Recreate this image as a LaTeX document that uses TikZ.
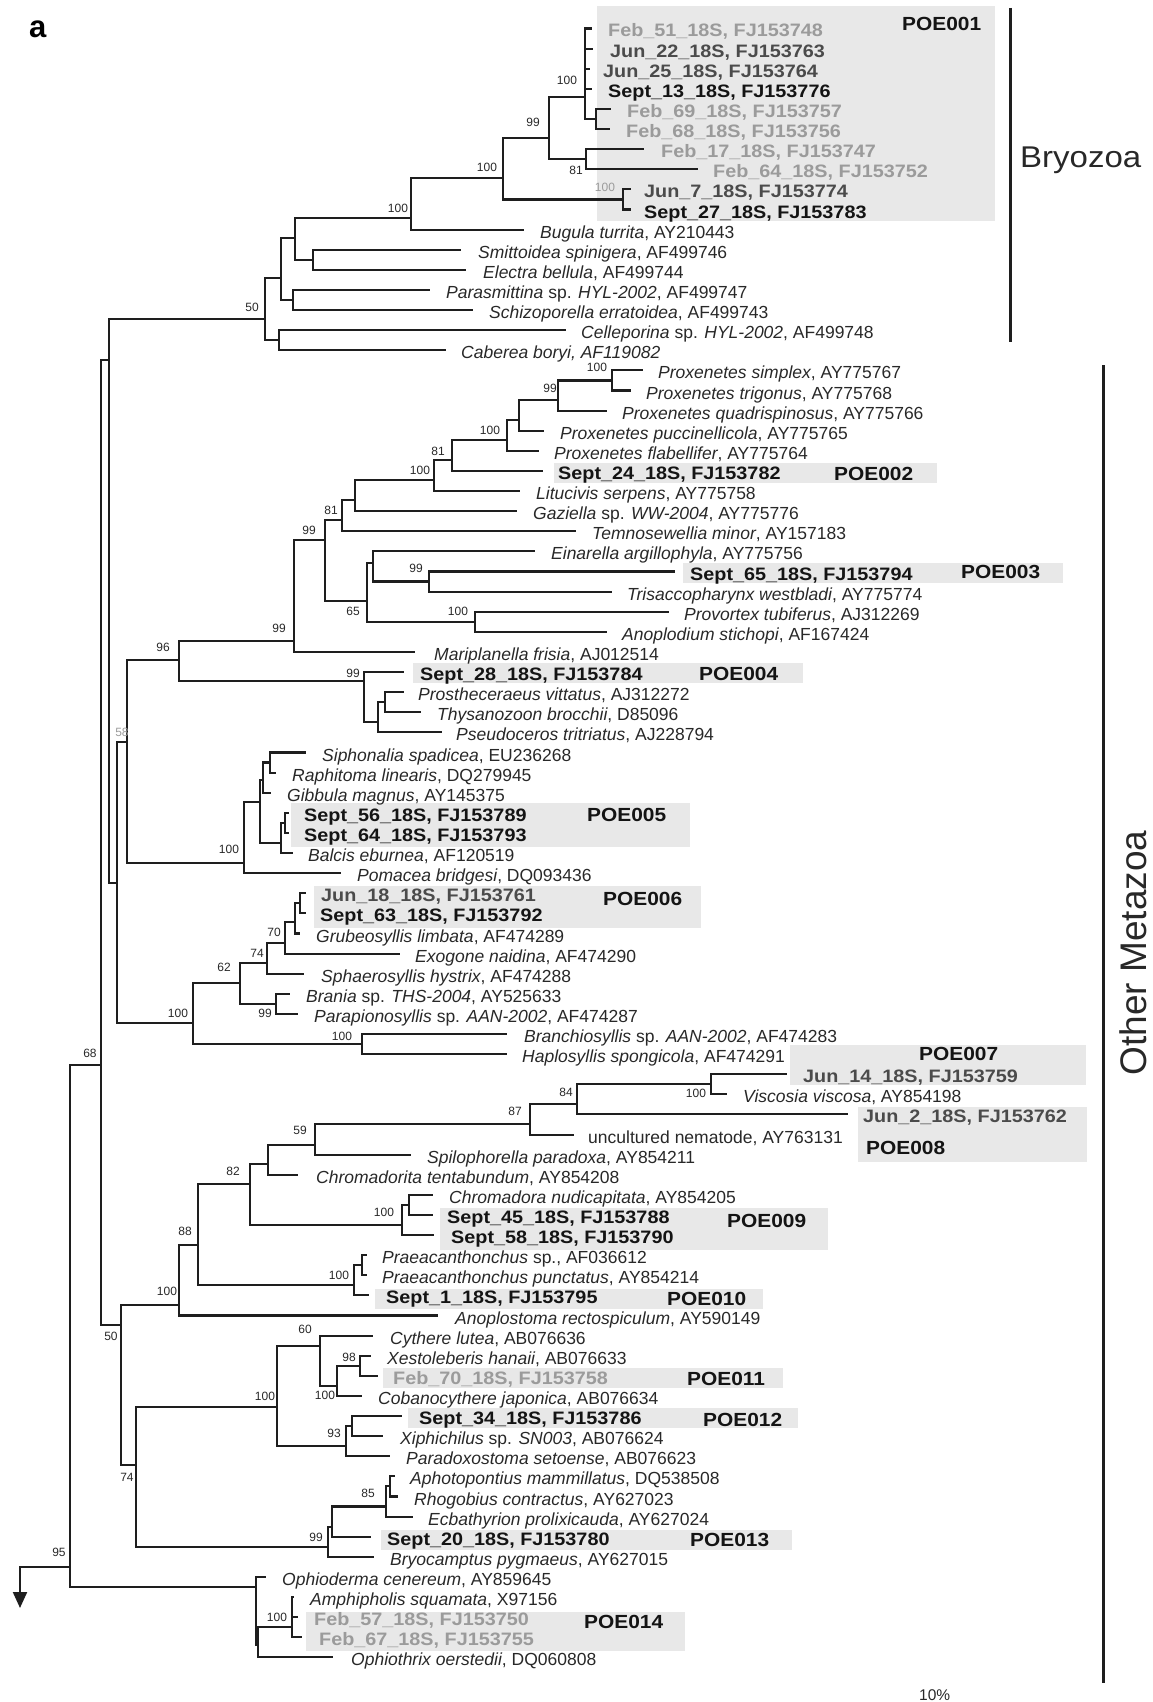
\documentclass[tikz,border=0pt]{standalone}
\usepackage{fontspec}
\setmainfont{Liberation Sans}
\newfontfamily\boldlab{Liberation Sans}[FakeStretch=1.1]
\usetikzlibrary{arrows.meta}
\definecolor{boxgray}{RGB}{232,232,232}
\definecolor{febc}{RGB}{155,155,155}
\definecolor{junc}{RGB}{75,75,75}
\definecolor{septc}{RGB}{20,20,20}
\definecolor{txtc}{RGB}{40,40,40}
\definecolor{linec}{RGB}{30,30,30}
\tikzset{
  br/.style={line width=2.1pt, draw=linec},
  cladebar/.style={line width=3pt, draw=linec},
  lf/.style={anchor=base west, inner sep=0pt, text=txtc, font=\fontsize{17.5}{20}\selectfont},
  bl/.style={anchor=base west, inner sep=0pt, text=septc, font=\boldlab\bfseries\fontsize{18}{20}\selectfont},
  poe/.style={anchor=base west, inner sep=0pt, text=septc, font=\boldlab\bfseries\fontsize{19}{20}\selectfont},
  bs/.style={inner sep=0pt, text=txtc, font=\fontsize{12}{12}\selectfont},
  gbox/.style={fill=boxgray, draw=none},
}
\newcommand\treekids[2]{\foreach \kid in {#2}{\draw[br] (#1) |- (\kid);}}
\begin{document}
\begin{tikzpicture}[x=1pt,y=-1pt]
\useasboundingbox (0,0) rectangle (1153,1702);
% ---------- grey boxes ----------
\fill[gbox] (597,6) rectangle (995,221);
\fill[gbox] (554,463) rectangle (937,483);
\fill[gbox] (683,563) rectangle (1063,583);
\fill[gbox] (413,663) rectangle (803,683);
\fill[gbox] (291,803) rectangle (690,847);
\fill[gbox] (314,886) rectangle (701,928);
\fill[gbox] (790,1045) rectangle (1086,1085);
\fill[gbox] (858,1107) rectangle (1087,1162);
\fill[gbox] (440,1208) rectangle (828,1250);
\fill[gbox] (375,1289) rectangle (763,1309);
\fill[gbox] (383,1368) rectangle (783,1388);
\fill[gbox] (408,1408) rectangle (798,1428);
\fill[gbox] (381,1530) rectangle (792,1550);
\fill[gbox] (306,1612) rectangle (685,1651);
% ---------- leaf tips ----------
\coordinate (t1) at (592,28.5);
\coordinate (t2) at (593,48.6);
\coordinate (t3) at (590,68.7);
\coordinate (t4) at (592,88.8);
\coordinate (t5) at (611,108.9);
\coordinate (t6) at (610,129.1);
\coordinate (t7) at (644,149.2);
\coordinate (t8) at (698,169.3);
\coordinate (t9) at (631,189.4);
\coordinate (t10) at (631,209.5);
\coordinate (t11) at (524,229.6);
\coordinate (t12) at (461,249.7);
\coordinate (t13) at (466,269.8);
\coordinate (t14) at (430,289.9);
\coordinate (t15) at (473,310.0);
\coordinate (t16) at (566,330.2);
\coordinate (t17) at (446,350.3);
\coordinate (t18) at (643,370.4);
\coordinate (t19) at (631,390.5);
\coordinate (t20) at (607,410.6);
\coordinate (t21) at (544,430.7);
\coordinate (t22) at (539,450.8);
\coordinate (t23) at (543,470.9);
\coordinate (t24) at (520,491.0);
\coordinate (t25) at (517,511.1);
\coordinate (t26) at (576,531.3);
\coordinate (t27) at (535,551.4);
\coordinate (t28) at (675,571.5);
\coordinate (t29) at (612,591.6);
\coordinate (t30) at (669,611.7);
\coordinate (t31) at (607,631.8);
\coordinate (t32) at (415,651.9);
\coordinate (t33) at (404,672.0);
\coordinate (t34) at (404,692.1);
\coordinate (t35) at (421,712.2);
\coordinate (t36) at (442,732.4);
\coordinate (t37) at (306,752.5);
\coordinate (t38) at (276,772.6);
\coordinate (t39) at (271,792.7);
\coordinate (t40) at (289,812.8);
\coordinate (t41) at (289,832.9);
\coordinate (t42) at (293,853.0);
\coordinate (t43) at (341,873.1);
\coordinate (t44) at (306,893.2);
\coordinate (t45) at (306,913.3);
\coordinate (t46) at (300,933.5);
\coordinate (t47) at (400,953.6);
\coordinate (t48) at (304,973.7);
\coordinate (t49) at (290,993.8);
\coordinate (t50) at (298,1013.9);
\coordinate (t51) at (507,1034.0);
\coordinate (t52) at (507,1054.1);
\coordinate (t53) at (787,1074.2);
\coordinate (t54) at (727,1094.3);
\coordinate (t55) at (848,1114.4);
\coordinate (t56) at (574,1134.6);
\coordinate (t57) at (411,1154.7);
\coordinate (t58) at (298,1174.8);
\coordinate (t59) at (433,1194.9);
\coordinate (t60) at (433,1215.0);
\coordinate (t61) at (434,1235.1);
\coordinate (t62) at (367,1255.2);
\coordinate (t63) at (367,1275.3);
\coordinate (t64) at (369,1295.4);
\coordinate (t65) at (438,1315.5);
\coordinate (t66) at (373,1335.7);
\coordinate (t67) at (371,1355.8);
\coordinate (t68) at (378,1375.9);
\coordinate (t69) at (362,1396.0);
\coordinate (t70) at (402,1416.1);
\coordinate (t71) at (383,1436.2);
\coordinate (t72) at (390,1456.3);
\coordinate (t73) at (395,1476.4);
\coordinate (t74) at (398,1496.5);
\coordinate (t75) at (413,1516.6);
\coordinate (t76) at (371,1536.8);
\coordinate (t77) at (374,1556.9);
\coordinate (t78) at (266,1577.0);
\coordinate (t79) at (294,1597.1);
\coordinate (t80) at (298,1617.2);
\coordinate (t81) at (302,1637.3);
\coordinate (t82) at (333,1657.4);
% ---------- internal nodes ----------
\coordinate (nA) at (585,97);
\coordinate (nA2) at (596,119);
\coordinate (nD) at (586,159.3);
\coordinate (nC) at (549,138);
\coordinate (nF) at (623,199.5);
\coordinate (nE) at (503,178);
\coordinate (nG) at (411,218);
\coordinate (nI) at (313,259.8);
\coordinate (nH) at (295,238);
\coordinate (nK) at (293,300);
\coordinate (nJ) at (281,278);
\coordinate (nM) at (279,340.2);
\coordinate (nL) at (265,319);
\coordinate (nN) at (109,360);
\coordinate (nO) at (117,883);
\coordinate (nR) at (101,1065);
\coordinate (nRoot) at (70,1567);
\coordinate (arrowend) at (20,1608);
\coordinate (nP) at (127,742);
\coordinate (nT) at (179,660);
\coordinate (nV) at (294,641);
\coordinate (nX) at (325,540);
\coordinate (nY) at (342,520);
\coordinate (nAA) at (355,500);
\coordinate (nAB) at (434,480);
\coordinate (nAC) at (452,460);
\coordinate (nAD) at (507,440);
\coordinate (nAE) at (519,420);
\coordinate (nAF) at (558,400);
\coordinate (nAG) at (612,380.5);
\coordinate (nZ) at (367,601);
\coordinate (nAH) at (373,563);
\coordinate (nAJ) at (429,581.5);
\coordinate (nAI) at (475,621.8);
\coordinate (nW) at (364,681);
\coordinate (nAK) at (378,722);
\coordinate (nAL) at (385,702);
\coordinate (nU) at (244,863);
\coordinate (nAM) at (260,802);
\coordinate (nAN) at (263,780);
\coordinate (nAQ) at (270,762.5);
\coordinate (nAO) at (281,843);
\coordinate (nAP) at (285,822.9);
\coordinate (nQ) at (193,1023);
\coordinate (nAR) at (240,983);
\coordinate (nAT) at (267,963);
\coordinate (nAV) at (285,943);
\coordinate (nAW) at (295,922);
\coordinate (nAX) at (300,903.2);
\coordinate (nAU) at (276,1003.9);
\coordinate (nAS) at (362,1044);
\coordinate (nS) at (121,1325);
\coordinate (nAY) at (179,1305);
\coordinate (nBA) at (198,1245);
\coordinate (nBB) at (250,1184);
\coordinate (nBD) at (268,1164);
\coordinate (nBF) at (315,1145);
\coordinate (nBG) at (530,1124);
\coordinate (nBH) at (577,1104);
\coordinate (nBI) at (711,1084.2);
\coordinate (nBE) at (402,1225);
\coordinate (nBJ) at (409,1205);
\coordinate (nBC) at (354,1285);
\coordinate (nBK) at (362,1265.2);
\coordinate (nAZ) at (136,1465);
\coordinate (nBL) at (277,1407);
\coordinate (nBN) at (320,1346);
\coordinate (nBP) at (337,1386);
\coordinate (nBQ) at (360,1365.8);
\coordinate (nBO) at (346,1446);
\coordinate (nBR) at (352,1426.1);
\coordinate (nBM) at (328,1547);
\coordinate (nBS) at (332,1527);
\coordinate (nBT) at (386,1506.5);
\coordinate (nBU) at (390,1486.4);
\coordinate (nEch) at (256,1587);
\coordinate (nBV) at (258,1645);
\coordinate (nBW) at (292,1627);
% ---------- branches ----------
\treekids{nA}{t1,t2,t3,t4,nA2}
\treekids{nA2}{t5,t6}
\treekids{nD}{t7,t8}
\treekids{nC}{nA,nD}
\treekids{nF}{t9,t10}
\treekids{nE}{nC,nF}
\treekids{nG}{nE,t11}
\treekids{nI}{t12,t13}
\treekids{nH}{nG,nI}
\treekids{nK}{t14,t15}
\treekids{nJ}{nH,nK}
\treekids{nM}{t16,t17}
\treekids{nL}{nJ,nM}
\treekids{nN}{nL,nO}
\treekids{nO}{nP,nQ}
\treekids{nR}{nN,nS}
\treekids{nRoot}{nR,nEch}
\draw[br,-{Triangle[width=14pt,length=16pt]}] (nRoot) -| (arrowend);
\treekids{nP}{nT,nU}
\treekids{nT}{nV,nW}
\treekids{nV}{nX,t32}
\treekids{nX}{nY,nZ}
\treekids{nY}{nAA,t26}
\treekids{nAA}{nAB,t25}
\treekids{nAB}{nAC,t24}
\treekids{nAC}{nAD,t23}
\treekids{nAD}{nAE,t22}
\treekids{nAE}{nAF,t21}
\treekids{nAF}{nAG,t20}
\treekids{nAG}{t18,t19}
\treekids{nZ}{nAH,nAI}
\treekids{nAH}{t27,nAJ}
\treekids{nAJ}{t28,t29}
\treekids{nAI}{t30,t31}
\treekids{nW}{t33,nAK}
\treekids{nAK}{nAL,t36}
\treekids{nAL}{t34,t35}
\treekids{nU}{nAM,t43}
\treekids{nAM}{nAN,nAO}
\treekids{nAN}{nAQ,t39}
\treekids{nAQ}{t37,t38}
\treekids{nAO}{nAP,t42}
\treekids{nAP}{t40,t41}
\treekids{nQ}{nAR,nAS}
\treekids{nAR}{nAT,nAU}
\treekids{nAT}{nAV,t48}
\treekids{nAV}{nAW,t47}
\treekids{nAW}{nAX,t46}
\treekids{nAX}{t44,t45}
\treekids{nAU}{t49,t50}
\treekids{nAS}{t51,t52}
\treekids{nS}{nAY,nAZ}
\treekids{nAY}{nBA,t65}
\treekids{nBA}{nBB,nBC}
\treekids{nBB}{nBD,nBE}
\treekids{nBD}{nBF,t58}
\treekids{nBF}{nBG,t57}
\treekids{nBG}{nBH,t56}
\treekids{nBH}{nBI,t55}
\treekids{nBI}{t53,t54}
\treekids{nBE}{nBJ,t61}
\treekids{nBJ}{t59,t60}
\treekids{nBC}{nBK,t64}
\treekids{nBK}{t62,t63}
\treekids{nAZ}{nBL,nBM}
\treekids{nBL}{nBN,nBO}
\treekids{nBN}{t66,nBP}
\treekids{nBP}{nBQ,t69}
\treekids{nBQ}{t67,t68}
\treekids{nBO}{nBR,t72}
\treekids{nBR}{t70,t71}
\treekids{nBM}{nBS,t77}
\treekids{nBS}{nBT,t76}
\treekids{nBT}{nBU,t75}
\treekids{nBU}{t73,t74}
\treekids{nEch}{t78,nBV}
\treekids{nBV}{nBW,t82}
\treekids{nBW}{t79,t80,t81}
% ---------- leaf labels ----------
\node[bl,text=febc] (L1) at (608,37.0) {Feb\_51\_18S, FJ153748};
\node[bl,text=junc] (L2) at (610,57.1) {Jun\_22\_18S, FJ153763};
\node[bl,text=junc] (L3) at (603,77.2) {Jun\_25\_18S, FJ153764};
\node[bl] (L4) at (608,97.3) {Sept\_13\_18S, FJ153776};
\node[bl,text=febc] (L5) at (627,117.4) {Feb\_69\_18S, FJ153757};
\node[bl,text=febc] (L6) at (626,137.6) {Feb\_68\_18S, FJ153756};
\node[bl,text=febc] (L7) at (661,157.7) {Feb\_17\_18S, FJ153747};
\node[bl,text=febc] (L8) at (713,177.8) {Feb\_64\_18S, FJ153752};
\node[bl,text=junc] (L9) at (644,197.9) {Jun\_7\_18S, FJ153774};
\node[bl] (L10) at (644,218.0) {Sept\_27\_18S, FJ153783};
\node[lf] (L11) at (540,238.1) {\textit{Bugula turrita}, AY210443};
\node[lf] (L12) at (478,258.2) {\textit{Smittoidea spinigera}, AF499746};
\node[lf] (L13) at (483,278.3) {\textit{Electra bellula}, AF499744};
\node[lf] (L14) at (446,298.4) {\textit{Parasmittina} sp. \textit{HYL-2002}, AF499747};
\node[lf] (L15) at (489,318.5) {\textit{Schizoporella erratoidea}, AF499743};
\node[lf] (L16) at (581,338.7) {\textit{Celleporina} sp. \textit{HYL-2002}, AF499748};
\node[lf] (L17) at (461,358.8) {\textit{Caberea boryi, AF119082}};
\node[lf] (L18) at (658,378.9) {\textit{Proxenetes simplex}, AY775767};
\node[lf] (L19) at (646,399.0) {\textit{Proxenetes trigonus}, AY775768};
\node[lf] (L20) at (622,419.1) {\textit{Proxenetes quadrispinosus}, AY775766};
\node[lf] (L21) at (560,439.2) {\textit{Proxenetes puccinellicola}, AY775765};
\node[lf] (L22) at (554,459.3) {\textit{Proxenetes flabellifer}, AY775764};
\node[bl] (L23) at (558,479.4) {Sept\_24\_18S, FJ153782};
\node[lf] (L24) at (536,499.5) {\textit{Litucivis serpens}, AY775758};
\node[lf] (L25) at (533,519.6) {\textit{Gaziella} sp. \textit{WW-2004}, AY775776};
\node[lf] (L26) at (592,539.8) {\textit{Temnosewellia minor}, AY157183};
\node[lf] (L27) at (551,559.9) {\textit{Einarella argillophyla}, AY775756};
\node[bl] (L28) at (690,580.0) {Sept\_65\_18S, FJ153794};
\node[lf] (L29) at (627,600.1) {\textit{Trisaccopharynx westbladi}, AY775774};
\node[lf] (L30) at (684,620.2) {\textit{Provortex tubiferus}, AJ312269};
\node[lf] (L31) at (622,640.3) {\textit{Anoplodium stichopi}, AF167424};
\node[lf] (L32) at (434,660.4) {\textit{Mariplanella frisia}, AJ012514};
\node[bl] (L33) at (420,680.5) {Sept\_28\_18S, FJ153784};
\node[lf] (L34) at (418,700.6) {\textit{Prostheceraeus vittatus}, AJ312272};
\node[lf] (L35) at (437,720.7) {\textit{Thysanozoon brocchii}, D85096};
\node[lf] (L36) at (456,740.9) {\textit{Pseudoceros tritriatus}, AJ228794};
\node[lf] (L37) at (322,761.0) {\textit{Siphonalia spadicea}, EU236268};
\node[lf] (L38) at (292,781.1) {\textit{Raphitoma linearis}, DQ279945};
\node[lf] (L39) at (287,801.2) {\textit{Gibbula magnus}, AY145375};
\node[bl] (L40) at (304,821.3) {Sept\_56\_18S, FJ153789};
\node[bl] (L41) at (304,841.4) {Sept\_64\_18S, FJ153793};
\node[lf] (L42) at (308,861.5) {\textit{Balcis eburnea}, AF120519};
\node[lf] (L43) at (357,881.6) {\textit{Pomacea bridgesi}, DQ093436};
\node[bl,text=junc] (L44) at (321,901.7) {Jun\_18\_18S, FJ153761};
\node[bl] (L45) at (320,921.8) {Sept\_63\_18S, FJ153792};
\node[lf] (L46) at (316,942.0) {\textit{Grubeosyllis limbata}, AF474289};
\node[lf] (L47) at (415,962.1) {\textit{Exogone naidina}, AF474290};
\node[lf] (L48) at (321,982.2) {\textit{Sphaerosyllis hystrix}, AF474288};
\node[lf] (L49) at (306,1002.3) {\textit{Brania} sp. \textit{THS-2004}, AY525633};
\node[lf] (L50) at (314,1022.4) {\textit{Parapionosyllis} sp. \textit{AAN-2002}, AF474287};
\node[lf] (L51) at (524,1042.5) {\textit{Branchiosyllis} sp. \textit{AAN-2002}, AF474283};
\node[lf] (L52) at (522,1062.6) {\textit{Haplosyllis spongicola}, AF474291};
\node[bl,text=junc] (L53) at (803,1082.7) {Jun\_14\_18S, FJ153759};
\node[lf] (L54) at (743,1102.8) {\textit{Viscosia viscosa}, AY854198};
\node[bl,text=junc] (L55) at (863,1122.9) {Jun\_2\_18S, FJ153762};
\node[lf] (L56) at (588,1143.1) {uncultured nematode, AY763131};
\node[lf] (L57) at (427,1163.2) {\textit{Spilophorella paradoxa}, AY854211};
\node[lf] (L58) at (316,1183.3) {\textit{Chromadorita tentabundum}, AY854208};
\node[lf] (L59) at (449,1203.4) {\textit{Chromadora nudicapitata}, AY854205};
\node[bl] (L60) at (447,1223.5) {Sept\_45\_18S, FJ153788};
\node[bl] (L61) at (451,1243.6) {Sept\_58\_18S, FJ153790};
\node[lf] (L62) at (382,1263.7) {\textit{Praeacanthonchus} sp., AF036612};
\node[lf] (L63) at (382,1283.8) {\textit{Praeacanthonchus punctatus}, AY854214};
\node[bl] (L64) at (386,1303.9) {Sept\_1\_18S, FJ153795};
\node[lf] (L65) at (455,1324.0) {\textit{Anoplostoma rectospiculum}, AY590149};
\node[lf] (L66) at (390,1344.2) {\textit{Cythere lutea}, AB076636};
\node[lf] (L67) at (387,1364.3) {\textit{Xestoleberis hanaii}, AB076633};
\node[bl,text=febc] (L68) at (393,1384.4) {Feb\_70\_18S, FJ153758};
\node[lf] (L69) at (378,1404.5) {\textit{Cobanocythere japonica}, AB076634};
\node[bl] (L70) at (419,1424.6) {Sept\_34\_18S, FJ153786};
\node[lf] (L71) at (400,1444.7) {\textit{Xiphichilus} sp. \textit{SN003}, AB076624};
\node[lf] (L72) at (406,1464.8) {\textit{Paradoxostoma setoense}, AB076623};
\node[lf] (L73) at (410,1484.9) {\textit{Aphotopontius mammillatus}, DQ538508};
\node[lf] (L74) at (414,1505.0) {\textit{Rhogobius contractus}, AY627023};
\node[lf] (L75) at (428,1525.1) {\textit{Ecbathyrion prolixicauda}, AY627024};
\node[bl] (L76) at (387,1545.3) {Sept\_20\_18S, FJ153780};
\node[lf] (L77) at (390,1565.4) {\textit{Bryocamptus pygmaeus}, AY627015};
\node[lf] (L78) at (282,1585.5) {\textit{Ophioderma cenereum}, AY859645};
\node[lf] (L79) at (310,1605.6) {\textit{Amphipholis squamata}, X97156};
\node[bl,text=febc] (L80) at (314,1625.7) {Feb\_57\_18S, FJ153750};
\node[bl,text=febc] (L81) at (319,1645.8) {Feb\_67\_18S, FJ153755};
\node[lf] (L82) at (351,1665.9) {\textit{Ophiothrix oerstedii}, DQ060808};
% ---------- POE labels ----------
\node[poe] (p1) at (902,30.7) {POE001};
\node[poe] (p2) at (834,480) {POE002};
\node[poe] (p3) at (961,578) {POE003};
\node[poe] (p4) at (699,680.5) {POE004};
\node[poe] (p5) at (587,821.5) {POE005};
\node[poe] (p6) at (603,905) {POE006};
\node[poe] (p7) at (919,1060.5) {POE007};
\node[poe] (p8) at (866,1154) {POE008};
\node[poe] (p9) at (727,1227) {POE009};
\node[poe] (p10) at (667,1305) {POE010};
\node[poe] (p11) at (687,1385) {POE011};
\node[poe] (p12) at (703,1426) {POE012};
\node[poe] (p13) at (690,1546.5) {POE013};
\node[poe] (p14) at (584,1628) {POE014};
% ---------- bootstrap values ----------
\node[bs] (b1) at (567,80) {100};
\node[bs] (b2) at (533,122) {99};
\node[bs] (b3) at (487,167) {100};
\node[bs] (b4) at (576,170) {81};
\node[bs] (b5) at (398,208) {100};
\node[bs,text=febc] (b6) at (605,187) {100};
\node[bs] (b7) at (252,307) {50};
\node[bs] (b8) at (597,367) {100};
\node[bs] (b9) at (550,388) {99};
\node[bs] (b10) at (490,430) {100};
\node[bs] (b11) at (438,451) {81};
\node[bs] (b12) at (420,470) {100};
\node[bs] (b13) at (331,510) {81};
\node[bs] (b14) at (309,530) {99};
\node[bs] (b15) at (416,568) {99};
\node[bs] (b16) at (353,611) {65};
\node[bs] (b17) at (458,611) {100};
\node[bs] (b18) at (279,628) {99};
\node[bs] (b19) at (163,647) {96};
\node[bs] (b20) at (353,673) {99};
\node[bs,text=febc] (b21) at (122,732) {58};
\node[bs] (b22) at (229,849) {100};
\node[bs] (b23) at (274,932) {70};
\node[bs] (b24) at (257,953) {74};
\node[bs] (b25) at (224,967) {62};
\node[bs] (b26) at (265,1013) {99};
\node[bs] (b27) at (178,1013) {100};
\node[bs] (b28) at (342,1036) {100};
\node[bs] (b29) at (90,1053) {68};
\node[bs] (b30) at (696,1093) {100};
\node[bs] (b31) at (566,1092) {84};
\node[bs] (b32) at (515,1111) {87};
\node[bs] (b33) at (300,1130) {59};
\node[bs] (b34) at (233,1171) {82};
\node[bs] (b35) at (384,1212) {100};
\node[bs] (b36) at (185,1231) {88};
\node[bs] (b37) at (339,1275) {100};
\node[bs] (b38) at (167,1291) {100};
\node[bs] (b39) at (111,1336) {50};
\node[bs] (b40) at (305,1329) {60};
\node[bs] (b41) at (349,1357) {98};
\node[bs] (b42) at (325,1395) {100};
\node[bs] (b43) at (265,1396) {100};
\node[bs] (b44) at (334,1433) {93};
\node[bs] (b45) at (127,1477) {74};
\node[bs] (b46) at (368,1493) {85};
\node[bs] (b47) at (316,1537) {99};
\node[bs] (b48) at (59,1552) {95};
\node[bs] (b49) at (277,1617) {100};
% ---------- clade bars and titles ----------
\coordinate (bryTop) at (1010,8);
\coordinate (bryBot) at (1010,342);
\draw[cladebar] (bryTop) -- (bryBot);
\coordinate (metTop) at (1103,365);
\coordinate (metBot) at (1103,1683);
\draw[cladebar] (metTop) -- (metBot);
\node[anchor=base west, inner sep=0pt, text=txtc, font=\boldlab\fontsize{30}{30}\selectfont] (bryo) at (1020,167) {Bryozoa};
\node[anchor=base, inner sep=0pt, rotate=90, text=txtc, font=\fontsize{37}{37}\selectfont] (meta) at (1146,953) {Other Metazoa};
\node[anchor=base west, inner sep=0pt, text=txtc, font=\fontsize{15.5}{16}\selectfont] (scale) at (919,1700) {10\%};
\node[anchor=base west, inner sep=0pt, text=black, font=\bfseries\fontsize{31}{31}\selectfont] (panel) at (29,38) {a};
\end{tikzpicture}
\end{document}
